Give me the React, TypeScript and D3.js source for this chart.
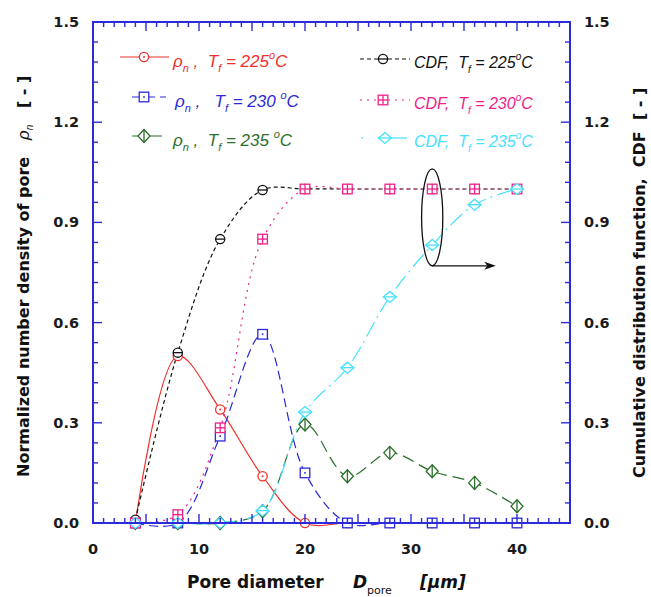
import React from 'react';
import * as d3 from 'd3';

// ---- data ----
const diameters = [4, 8, 12, 16, 20, 24, 28, 32, 36, 40];
const rho225 = [0, 0.5, 0.34, 0.14, 0, 0, 0, 0, 0, 0];
const rho230 = [0, 0, 0.26, 0.565, 0.15, 0, 0, 0, 0, 0];
const rho235 = [0, 0, 0, 0.035, 0.295, 0.14, 0.21, 0.155, 0.12, 0.05];
const cdf225 = [0.01, 0.51, 0.85, 0.997, 1, 1, 1, 1, 1, 1];
const cdf230 = [0, 0.025, 0.285, 0.85, 1, 1, 1, 1, 1, 1];
const cdf235 = [0, 0, 0, 0.037, 0.332, 0.465, 0.677, 0.832, 0.953, 1.0];
const xTickLabels = [0, 10, 20, 30, 40];
const yTickLabels = [0, 0.3, 0.6, 0.9, 1.2, 1.5];
const temps = ['225', '230', '235'];

const W = 651;
const H = 597;
const x = d3.scaleLinear().domain([0, 45]).range([93, 570]);
const y = d3.scaleLinear().domain([0, 1.5]).range([523, 22]);

const AXIS = '#2b2bd9';
const RED = '#f0302a';
const BLUE = '#2a2ad8';
const GREEN = '#2c6e2c';
const BLACK = '#111111';
const PINK = '#f0208a';
const CYAN = '#45e0ff';

type Kind = 'circleDot' | 'circleBar' | 'squareDot' | 'squareCross' | 'diamondV' | 'diamondH';

interface Series {
  values: number[];
  color: string;
  dash: string;
  kind: Kind;
}

const rhoSeries: Series[] = [
  { values: rho225, color: RED, dash: 'none', kind: 'circleDot' },
  { values: rho230, color: BLUE, dash: '9,5', kind: 'squareDot' },
  { values: rho235, color: GREEN, dash: '12,6', kind: 'diamondV' },
];
const cdfSeries: Series[] = [
  { values: cdf225, color: BLACK, dash: '4,3', kind: 'circleBar' },
  { values: cdf230, color: PINK, dash: '2,5', kind: 'squareCross' },
  { values: cdf235, color: CYAN, dash: '16,5,2,5', kind: 'diamondH' },
];

function Marker({ kind, cx, cy, color }: { kind: Kind; cx: number; cy: number; color: string }) {
  const sw = 1.3;
  switch (kind) {
    case 'circleDot':
      return (
        <g>
          <circle cx={cx} cy={cy} r={4.6} fill="white" stroke={color} strokeWidth={sw} />
          <circle cx={cx} cy={cy} r={1} fill={color} />
        </g>
      );
    case 'circleBar':
      return (
        <g>
          <circle cx={cx} cy={cy} r={4.6} fill="white" stroke={color} strokeWidth={sw} />
          <line x1={cx - 4.6} x2={cx + 4.6} y1={cy} y2={cy} stroke={color} strokeWidth={sw} />
        </g>
      );
    case 'squareDot':
      return (
        <g>
          <rect x={cx - 4.8} y={cy - 4.8} width={9.6} height={9.6} fill="white" stroke={color} strokeWidth={sw} />
          <rect x={cx - 0.8} y={cy - 0.8} width={1.6} height={1.6} fill={color} />
        </g>
      );
    case 'squareCross':
      return (
        <g>
          <rect x={cx - 4.8} y={cy - 4.8} width={9.6} height={9.6} fill="white" stroke={color} strokeWidth={sw} />
          <line x1={cx - 4.8} x2={cx + 4.8} y1={cy} y2={cy} stroke={color} strokeWidth={sw} />
          <line x1={cx} x2={cx} y1={cy - 4.8} y2={cy + 4.8} stroke={color} strokeWidth={sw} />
        </g>
      );
    case 'diamondV':
      return (
        <g>
          <path d={`M${cx},${cy - 6.5}L${cx + 6},${cy}L${cx},${cy + 6.5}L${cx - 6},${cy}Z`} fill="white" stroke={color} strokeWidth={sw} />
          <line x1={cx} x2={cx} y1={cy - 6.5} y2={cy + 6.5} stroke={color} strokeWidth={sw} />
        </g>
      );
    case 'diamondH':
      return (
        <g>
          <path d={`M${cx},${cy - 5.5}L${cx + 6.5},${cy}L${cx},${cy + 5.5}L${cx - 6.5},${cy}Z`} fill="white" stroke={color} strokeWidth={sw} />
          <line x1={cx - 6.5} x2={cx + 6.5} y1={cy} y2={cy} stroke={color} strokeWidth={sw} />
        </g>
      );
  }
  return null;
}

const lineGen = d3
  .line<[number, number]>()
  .x((d) => x(d[0]))
  .y((d) => y(d[1]))
  .curve(d3.curveCatmullRom.alpha(0.5));

function SeriesLine({ s }: { s: Series }) {
  const pts = diameters.map((d, i) => [d, s.values[i]] as [number, number]);
  return (
    <path d={lineGen(pts) || ''} fill="none" stroke={s.color} strokeWidth={1.2} strokeDasharray={s.dash === 'none' ? undefined : s.dash} />
  );
}

function SeriesMarkers({ s }: { s: Series }) {
  return (
    <g>
      {diameters.map((d, i) => (
        <Marker key={i} kind={s.kind} cx={x(d)} cy={y(s.values[i])} color={s.color} />
      ))}
    </g>
  );
}

const TICKFONT = 'DejaVu Sans, Verdana, sans-serif';
const LEGFONT = 'Liberation Sans, Arial, sans-serif';

export default function App() {
  const xMinor = d3.range(0, 46, 1);
  const yMinor = d3.range(0, 26, 1).map((i) => i * 0.06);
  const x0 = x(0), x1 = x(45), y0 = y(0), y1 = y(1.5);

  const leftLegY = [57, 97, 136];
  const leftLegText = [
    { x: 173, comma: ' ,  ', eq: '= 225', after: '' },
    { x: 175, comma: ' ,   ', eq: '= 230', after: ' ' },
    { x: 173, comma: ' ,  ', eq: '= 235', after: ' ' },
  ];
  const rightLegY = [59, 100, 138];

  return (
    <div style={{ position: 'absolute', left: 0, top: 0 }}>
      <svg width={W} height={H} xmlns="http://www.w3.org/2000/svg" style={{ display: 'block', background: 'white' }}>
        {/* series lines */}
        {rhoSeries.map((s, i) => <SeriesLine key={'rl' + i} s={s} />)}
        {cdfSeries.map((s, i) => <SeriesLine key={'cl' + i} s={s} />)}
        {rhoSeries.map((s, i) => <SeriesMarkers key={'rm' + i} s={s} />)}
        {cdfSeries.map((s, i) => <SeriesMarkers key={'cm' + i} s={s} />)}

        {/* annotation ellipse and arrow */}
        <ellipse cx={x(32)} cy={y(0.915)} rx={x(33) - x(32)} ry={y(0.77) - y(0.915)} fill="none" stroke="#111" strokeWidth={1.3} />
        <line x1={x(32)} y1={y(0.77)} x2={x(37.2)} y2={y(0.77)} stroke="#111" strokeWidth={1.3} />
        <path d={`M${x(38)},${y(0.77)}L${x(37.2) - 3},${y(0.77) - 4}L${x(37.2)},${y(0.77)}L${x(37.2) - 3},${y(0.77) + 4}Z`} fill="#111" />

        {/* axes frame */}
        <g stroke={AXIS} fill="none">
          <rect x={x0} y={y1} width={x1 - x0} height={y0 - y1} strokeWidth={2} />
          {xMinor.map((v) => {
            const len = v % 5 === 0 ? 9 : 5;
            return (
              <g key={'xt' + v} strokeWidth={1.4}>
                <line x1={x(v)} x2={x(v)} y1={y0} y2={y0 - len} />
                <line x1={x(v)} x2={x(v)} y1={y1} y2={y1 + len} />
              </g>
            );
          })}
          {yMinor.map((v, i) => {
            const len = i % 5 === 0 ? 9 : 5;
            return (
              <g key={'yt' + i} strokeWidth={1.4}>
                <line x1={x0} x2={x0 + len} y1={y(v)} y2={y(v)} />
                <line x1={x1} x2={x1 - len} y1={y(v)} y2={y(v)} />
              </g>
            );
          })}
        </g>

        {/* tick labels */}
        <g fontFamily={TICKFONT} fontWeight="bold" fontSize={14.5} fill="#1a1a1a">
          {xTickLabels.map((v) => (
            <text key={'xl' + v} x={x(v)} y={554} textAnchor="middle">{v}</text>
          ))}
          {yTickLabels.map((v) => (
            <text key={'yl' + v} x={79} y={y(v) + 5} textAnchor="end">{v.toFixed(1)}</text>
          ))}
          {yTickLabels.map((v) => (
            <text key={'yr' + v} x={584} y={y(v) + 5} textAnchor="start">{v.toFixed(1)}</text>
          ))}
        </g>

        {/* axis titles */}
        <text x={187} y={588} fontFamily={TICKFONT} fontWeight="bold" fontSize={17} fill="#111" style={{ whiteSpace: 'pre' }}>
          Pore diameter
        </text>
        <text x={353} y={588} fontFamily={TICKFONT} fontWeight="bold" fontStyle="italic" fontSize={17} fill="#111">D</text>
        <text x={367} y={594} fontFamily={TICKFONT} fontSize={11} fill="#111">pore</text>
        <text x={420} y={588} fontFamily={TICKFONT} fontWeight="bold" fontStyle="italic" fontSize={17} fill="#111">[μm]</text>

        <text transform="translate(29,477) rotate(-90)" fontFamily={TICKFONT} fontWeight="bold" fontSize={16} fill="#111" style={{ whiteSpace: 'pre' }}>
          <tspan>Normalized number density of pore   </tspan>
          <tspan fontFamily={LEGFONT} fontStyle="italic" fontWeight="normal" fontSize={17}>ρ</tspan>
          <tspan fontFamily={LEGFONT} fontStyle="italic" fontWeight="normal" fontSize={10} dy={4}>n</tspan>
          <tspan dy={-4}>   [ - ]</tspan>
        </text>
        <text transform="translate(645,478) rotate(-90)" fontFamily={TICKFONT} fontWeight="bold" fontSize={16} fill="#111" style={{ whiteSpace: 'pre' }}>
          Cumulative distribution function,  CDF  [ - ]
        </text>

        {/* left legend */}
        {rhoSeries.map((s, i) => {
          const ly = leftLegY[i];
          const lx1 = i === 0 ? 120 : 132;
          const lx2 = i === 0 ? 169 : 166;
          const t = leftLegText[i];
          return (
            <g key={'ll' + i}>
              <line x1={lx1} x2={lx2} y1={ly} y2={ly} stroke={s.color} strokeWidth={1.2} strokeDasharray={s.dash === 'none' ? undefined : s.dash} />
              <Marker kind={s.kind} cx={144} cy={ly} color={s.color} />
              <text x={t.x} y={ly + 10} fill={s.color} fontFamily={LEGFONT} fontStyle="italic" fontSize={17} style={{ whiteSpace: 'pre' }}>
                <tspan>ρ</tspan>
                <tspan fontSize={11} dy={5}>n</tspan>
                <tspan dy={-5}>{t.comma}T</tspan>
                <tspan fontSize={11} dy={5}>f</tspan>
                <tspan dy={-5}>{' ' + t.eq + t.after}</tspan>
                <tspan fontSize={11} dy={-8}>o</tspan>
                <tspan dy={8}>C</tspan>
              </text>
            </g>
          );
        })}

        {/* right legend */}
        {cdfSeries.map((s, i) => {
          const ly = rightLegY[i];
          return (
            <g key={'rl' + i}>
              {i === 2 ? (
                <g stroke={s.color} strokeWidth={1.2}>
                  <line x1={361} x2={363} y1={ly} y2={ly} />
                  <line x1={378} x2={407} y1={ly} y2={ly} />
                </g>
              ) : (
                <line x1={360} x2={410} y1={ly} y2={ly} stroke={s.color} strokeWidth={1.2} strokeDasharray={s.dash} />
              )}
              <Marker kind={s.kind} cx={i === 2 ? 385 : 383} cy={ly} color={s.color} />
              <text x={414} y={ly + 9} fill={s.color} fontFamily={LEGFONT} fontStyle="italic" fontSize={16} style={{ whiteSpace: 'pre' }}>
                <tspan>CDF,  T</tspan>
                <tspan fontSize={10} dy={5}>f</tspan>
                <tspan dy={-5}>{' = ' + temps[i]}</tspan>
                <tspan fontSize={10} dy={-8}>o</tspan>
                <tspan dy={8}>C</tspan>
              </text>
            </g>
          );
        })}
      </svg>
    </div>
  );
}
